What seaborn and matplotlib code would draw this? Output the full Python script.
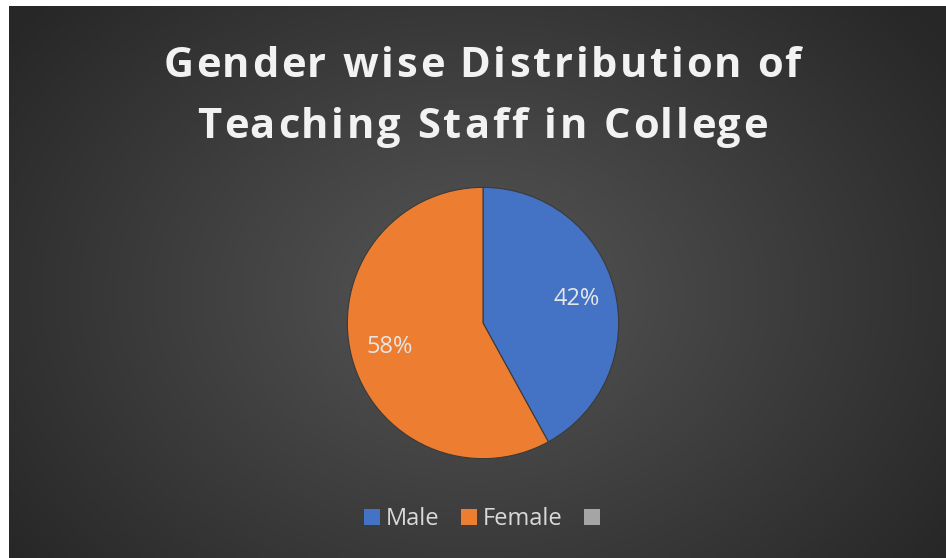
import matplotlib
matplotlib.use('Agg')
import matplotlib.pyplot as plt
import numpy as np
import seaborn as sns
from matplotlib.patches import Patch

# Data
CATEGORIES = ['Male', 'Female', '']
SHARES = [42, 58]
COLORS = ['#4472C4', '#ED7D31', '#A5A5A5']
TITLE_LINES = ['Gender wise Distribution of', 'Teaching Staff in College']

sns.set_theme(style='white')
plt.rcParams['font.family'] = ['Open Sans', 'DejaVu Sans']

W, H = 946, 558
fig = plt.figure(figsize=(W / 100, H / 100), dpi=100)
fig.patch.set_facecolor('white')

# ── Background: radial dark-grey gradient, white margin top/left ──────────
left_px, top_px = 9, 6
bg = fig.add_axes([left_px / W, 0, 1 - left_px / W, 1 - top_px / H])
yy, xx = np.mgrid[0:200, 0:340]
cx, cy = 170 * 0.99, 200 * 0.52
dist = np.sqrt(((xx - cx) / 340) ** 2 + ((yy - cy) / 200) ** 2 * 0.6)
dist = np.clip(dist / 0.62, 0, 1)
light, dark = np.array([0x56, 0x56, 0x56]), np.array([0x27, 0x27, 0x27])
img = light[None, None, :] * (1 - dist[..., None]) + dark[None, None, :] * dist[..., None]
bg.imshow(img.astype(np.uint8), aspect='auto', interpolation='bilinear')
bg.set_axis_off()

# ── Pie ────────────────────────────────────────────────────────────────────
pcx, pcy, rad = 483, 323, 137
ax = fig.add_axes([(pcx - rad) / W, (H - pcy - rad) / H, 2 * rad / W, 2 * rad / H])
wedges, texts, autotexts = ax.pie(
    SHARES, colors=COLORS[:2], startangle=90, counterclock=False,
    autopct='%1.0f%%', pctdistance=0.71, radius=1,
    wedgeprops=dict(linewidth=0.8, edgecolor='#3a3a3a'),
    textprops=dict(color='#e6e6e6', fontsize=17),
)
ax.set_xlim(-1.01, 1.01)
ax.set_ylim(-1.01, 1.01)
ax.set_axis_off()

# ── Title, letter-spaced: place glyph by glyph ─────────────────────────────
renderer = fig.canvas.get_renderer()
title_kw = dict(fontsize=30, fontweight='bold', color='#f2f2f2', va='baseline')
tracking = 2.9  # extra px between letters
for line, (center_x, base_y) in zip(TITLE_LINES, [(482, 77), (482, 138)]):
    widths = []
    for ch in line:
        probe = fig.text(0, 0, 'x' + ch + 'x', **title_kw)
        w_all = probe.get_window_extent(renderer).width
        probe.remove()
        probe = fig.text(0, 0, 'xx', **title_kw)
        w_xx = probe.get_window_extent(renderer).width
        probe.remove()
        widths.append(w_all - w_xx)
    total = sum(widths) + tracking * (len(line) - 1)
    x = center_x - total / 2
    for ch, w in zip(line, widths):
        fig.text(x / W, 1 - base_y / H, ch, ha='left', **title_kw)
        x += w + tracking

# ── Legend ─────────────────────────────────────────────────────────────────
handles = [Patch(facecolor=c, edgecolor='none', label=l)
           for c, l in zip(COLORS, CATEGORIES)]
fig.legend(handles=handles, loc='center', bbox_to_anchor=(485 / W, 1 - 519 / H),
           ncol=3, frameon=False, fontsize=17, labelcolor='#d9d9d9',
           handlelength=0.68, handleheight=0.68, handletextpad=0.25,
           columnspacing=0.9, borderpad=0, borderaxespad=0)

fig.savefig('out.png', dpi=100, facecolor=fig.get_facecolor())
